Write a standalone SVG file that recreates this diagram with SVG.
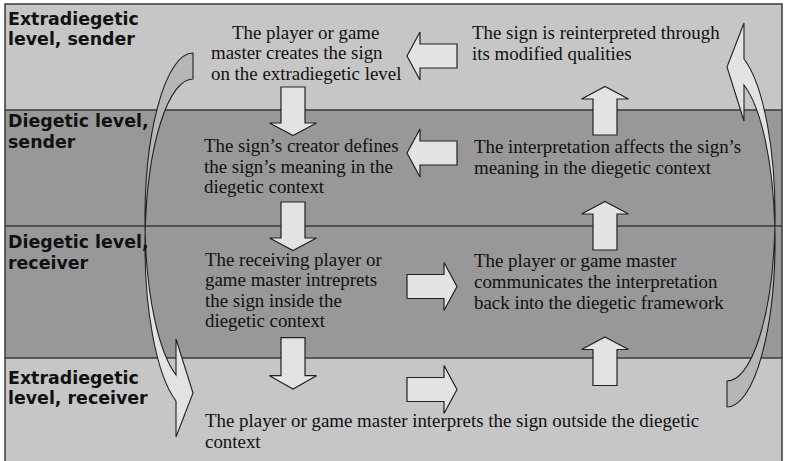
<svg xmlns="http://www.w3.org/2000/svg" xmlns:xlink="http://www.w3.org/1999/xlink" width="785" height="461" viewBox="0 0 785 461">
  <style>
    .band-light { fill: #c6c6c6; }
    .band-dark { fill: #989898; }
    .divider { stroke: #3a3a3a; stroke-width: 1.5; fill: none; }
    .frame { fill: none; stroke: #3a3a3a; stroke-width: 1.5; }
    .level { font-family: "DejaVu Sans", "Liberation Sans", sans-serif; font-weight: bold; font-size: 17.4px; fill: #111; }
    .step { font-family: "Liberation Serif", "Times New Roman", serif; font-size: 18.9px; fill: #111; }
    .block { fill: #e3e3e3; stroke: #222; stroke-width: 1.2; stroke-linejoin: miter; }
    .curve-back { fill: #b6b6b6; stroke: #222; stroke-width: 1.1; }
    .curve-front { fill: #e3e3e3; stroke: #222; stroke-width: 1.1; }
  </style>
  <defs>
    <!-- block arrow pointing right, centred on the origin -->
    <path id="arrow-h" d="M -25,-12 H 12 V -24 L 25,0 L 12,24 V 12 H -25 Z"/>
    <!-- block arrow pointing down, centred on the origin -->
    <path id="arrow-v" d="M -12,-24 H 12 V 12 H 23.5 L 0,24.5 L -23.5,12 H -12 Z"/>
    <!-- curved return arrow: tail at top right, bulging left, head at bottom right -->
    <g id="curved-arrow">
      <path class="curve-back" d="M193,53 A48,166.4 0 0 0 145.15,232.4 A48,166.4 0 0 1 193,79 Z"/>
      <path class="curve-front" d="M145.15,232.4 A48,166.4 0 0 0 176,375 L176,339 L193,393 L176,437 L176,401 A48,166.4 0 0 1 145.15,232.4 Z"/>
    </g>
  </defs>

  <!-- level bands -->
  <g id="bands">
    <rect class="band-light" x="5" y="4" width="777" height="106"/>
    <rect class="band-dark" x="5" y="110" width="777" height="116"/>
    <rect class="band-dark" x="5" y="226" width="777" height="132"/>
    <rect class="band-light" x="5" y="358" width="777" height="104"/>
    <line class="divider" x1="5" y1="110" x2="782" y2="110"/>
    <line class="divider" x1="5" y1="226" x2="782" y2="226"/>
    <line class="divider" x1="5" y1="358" x2="782" y2="358"/>
    <rect class="frame" x="5" y="4" width="777" height="460"/>
  </g>

  <!-- connectors -->
  <g id="connectors">
    <use xlink:href="#curved-arrow"/>
    <use xlink:href="#curved-arrow" transform="rotate(180 460 230)"/>
    <!-- left column, downwards -->
    <use xlink:href="#arrow-v" class="block" transform="translate(293,111)"/>
    <use xlink:href="#arrow-v" class="block" transform="translate(293,226)"/>
    <use xlink:href="#arrow-v" class="block" transform="translate(293,363) scale(1,1.06)"/>
    <!-- across the columns -->
    <use xlink:href="#arrow-h" class="block" transform="translate(432,56) rotate(180)"/>
    <use xlink:href="#arrow-h" class="block" transform="translate(432,153) rotate(180)"/>
    <use xlink:href="#arrow-h" class="block" transform="translate(432,286.5)"/>
    <use xlink:href="#arrow-h" class="block" transform="translate(432,389.5)"/>
    <!-- right column, upwards -->
    <use xlink:href="#arrow-v" class="block" transform="translate(605,111) rotate(180)"/>
    <use xlink:href="#arrow-v" class="block" transform="translate(605,226) rotate(180)"/>
    <use xlink:href="#arrow-v" class="block" transform="translate(605,361.5) rotate(180)"/>
  </g>

  <!-- level labels -->
  <g id="level-extradiegetic-sender">
    <text class="level" x="8" y="25">Extradiegetic</text>
    <text class="level" x="8" y="45">level, sender</text>
  </g>
  <g id="level-diegetic-sender">
    <text class="level" x="8" y="127">Diegetic level,</text>
    <text class="level" x="8" y="147.5">sender</text>
  </g>
  <g id="level-diegetic-receiver">
    <text class="level" x="8" y="248">Diegetic level,</text>
    <text class="level" x="8" y="268.5">receiver</text>
  </g>
  <g id="level-extradiegetic-receiver">
    <text class="level" x="8" y="383.5">Extradiegetic</text>
    <text class="level" x="8" y="403.5">level, receiver</text>
  </g>

  <!-- steps -->
  <g id="step-create">
    <text class="step" x="232" y="38.5">The player or game</text>
    <text class="step" x="211" y="59">master creates the sign</text>
    <text class="step" x="211" y="79.5">on the extradiegetic level</text>
  </g>
  <g id="step-define">
    <text class="step" x="204" y="152">The sign’s creator defines</text>
    <text class="step" x="204" y="172.5">the sign’s meaning in the</text>
    <text class="step" x="204" y="193">diegetic context</text>
  </g>
  <g id="step-interpret-inside">
    <text class="step" x="205" y="265.5">The receiving player or</text>
    <text class="step" x="205" y="286">game master intreprets</text>
    <text class="step" x="205" y="306.5">the sign inside the</text>
    <text class="step" x="205" y="327">diegetic context</text>
  </g>
  <g id="step-interpret-outside">
    <text class="step" x="205" y="426.5">The player or game master interprets the sign outside the diegetic</text>
    <text class="step" x="205" y="447.5">context</text>
  </g>
  <g id="step-communicate">
    <text class="step" x="474" y="267">The player or game master</text>
    <text class="step" x="474" y="288">communicates the interpretation</text>
    <text class="step" x="474" y="309">back into the diegetic framework</text>
  </g>
  <g id="step-affect">
    <text class="step" x="474" y="153">The interpretation affects the sign’s</text>
    <text class="step" x="474" y="173.5">meaning in the diegetic context</text>
  </g>
  <g id="step-reinterpret">
    <text class="step" x="472" y="38.5">The sign is reinterpreted through</text>
    <text class="step" x="472" y="60">its modified qualities</text>
  </g>
</svg>
